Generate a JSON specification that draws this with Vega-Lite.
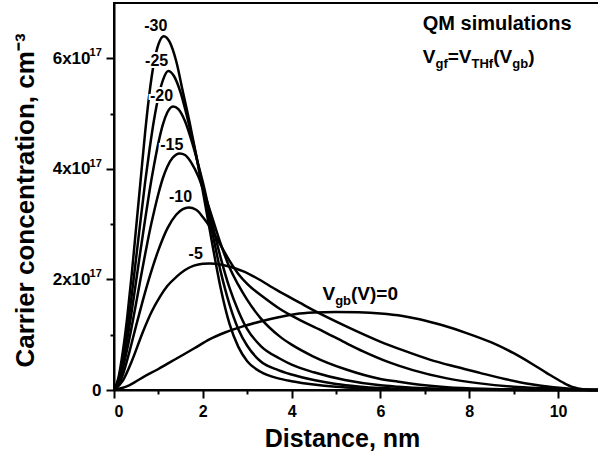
{
  "$schema": "https://vega.github.io/schema/vega-lite/v6.json",
  "autosize": {"type": "none"},
  "padding": {"left": 114, "top": 3, "right": 0, "bottom": 62},
  "width": 488,
  "height": 387,
  "config": {
    "font": "Liberation Sans",
    "view": {"stroke": "black", "strokeWidth": 2}
  },
  "datasets": {
    "curves": [
      {"s":-30,"x":0,"n":0},{"s":-30,"x":0.1,"n":0.22},{"s":-30,"x":0.2,"n":0.7},{"s":-30,"x":0.3,"n":1.33},{"s":-30,"x":0.4,"n":2.1},{"s":-30,"x":0.5,"n":2.95},{"s":-30,"x":0.6,"n":3.8},{"s":-30,"x":0.7,"n":4.65},{"s":-30,"x":0.8,"n":5.38},{"s":-30,"x":0.9,"n":5.92},{"s":-30,"x":1.0,"n":6.25},{"s":-30,"x":1.12,"n":6.4},{"s":-30,"x":1.25,"n":6.3},{"s":-30,"x":1.4,"n":5.95},{"s":-30,"x":1.55,"n":5.4},{"s":-30,"x":1.7,"n":4.85},{"s":-30,"x":1.85,"n":4.25},{"s":-30,"x":2.0,"n":3.6},{"s":-30,"x":2.2,"n":2.7},{"s":-30,"x":2.4,"n":1.85},{"s":-30,"x":2.6,"n":1.2},{"s":-30,"x":2.8,"n":0.78},{"s":-30,"x":3.0,"n":0.52},{"s":-30,"x":3.3,"n":0.33},{"s":-30,"x":3.7,"n":0.21},{"s":-30,"x":4.0,"n":0.16},{"s":-30,"x":4.5,"n":0.1},{"s":-30,"x":5.0,"n":0.06},{"s":-30,"x":5.5,"n":0.035},{"s":-30,"x":6.0,"n":0.02},{"s":-30,"x":7.0,"n":0.007},{"s":-30,"x":8.0,"n":0.003},{"s":-30,"x":9.5,"n":0.001},{"s":-30,"x":11,"n":0},
      {"s":-25,"x":0,"n":0},{"s":-25,"x":0.1,"n":0.19},{"s":-25,"x":0.2,"n":0.58},{"s":-25,"x":0.3,"n":1.1},{"s":-25,"x":0.4,"n":1.72},{"s":-25,"x":0.5,"n":2.4},{"s":-25,"x":0.6,"n":3.08},{"s":-25,"x":0.7,"n":3.75},{"s":-25,"x":0.8,"n":4.35},{"s":-25,"x":0.9,"n":4.88},{"s":-25,"x":1.0,"n":5.3},{"s":-25,"x":1.1,"n":5.6},{"s":-25,"x":1.22,"n":5.77},{"s":-25,"x":1.35,"n":5.68},{"s":-25,"x":1.5,"n":5.38},{"s":-25,"x":1.65,"n":4.93},{"s":-25,"x":1.8,"n":4.42},{"s":-25,"x":2.0,"n":3.68},{"s":-25,"x":2.2,"n":2.9},{"s":-25,"x":2.4,"n":2.15},{"s":-25,"x":2.6,"n":1.55},{"s":-25,"x":2.8,"n":1.1},{"s":-25,"x":3.0,"n":0.8},{"s":-25,"x":3.3,"n":0.52},{"s":-25,"x":3.7,"n":0.36},{"s":-25,"x":4.0,"n":0.28},{"s":-25,"x":4.5,"n":0.18},{"s":-25,"x":5.0,"n":0.11},{"s":-25,"x":5.5,"n":0.065},{"s":-25,"x":6.0,"n":0.035},{"s":-25,"x":7.0,"n":0.012},{"s":-25,"x":8.0,"n":0.005},{"s":-25,"x":9.5,"n":0.001},{"s":-25,"x":11,"n":0},
      {"s":-20,"x":0,"n":0},{"s":-20,"x":0.1,"n":0.16},{"s":-20,"x":0.2,"n":0.5},{"s":-20,"x":0.3,"n":0.93},{"s":-20,"x":0.4,"n":1.43},{"s":-20,"x":0.5,"n":1.98},{"s":-20,"x":0.6,"n":2.54},{"s":-20,"x":0.7,"n":3.08},{"s":-20,"x":0.8,"n":3.6},{"s":-20,"x":0.9,"n":4.06},{"s":-20,"x":1.0,"n":4.47},{"s":-20,"x":1.1,"n":4.8},{"s":-20,"x":1.2,"n":5.02},{"s":-20,"x":1.33,"n":5.13},{"s":-20,"x":1.45,"n":5.08},{"s":-20,"x":1.6,"n":4.86},{"s":-20,"x":1.75,"n":4.5},{"s":-20,"x":1.9,"n":4.07},{"s":-20,"x":2.0,"n":3.76},{"s":-20,"x":2.2,"n":3.05},{"s":-20,"x":2.4,"n":2.4},{"s":-20,"x":2.6,"n":1.85},{"s":-20,"x":2.8,"n":1.43},{"s":-20,"x":3.0,"n":1.1},{"s":-20,"x":3.3,"n":0.8},{"s":-20,"x":3.73,"n":0.57},{"s":-20,"x":4.0,"n":0.46},{"s":-20,"x":4.5,"n":0.32},{"s":-20,"x":5.2,"n":0.18},{"s":-20,"x":6.0,"n":0.085},{"s":-20,"x":6.4,"n":0.06},{"s":-20,"x":7.0,"n":0.03},{"s":-20,"x":8.0,"n":0.01},{"s":-20,"x":9.5,"n":0.002},{"s":-20,"x":11,"n":0},
      {"s":-15,"x":0,"n":0},{"s":-15,"x":0.1,"n":0.13},{"s":-15,"x":0.2,"n":0.4},{"s":-15,"x":0.3,"n":0.75},{"s":-15,"x":0.4,"n":1.15},{"s":-15,"x":0.5,"n":1.58},{"s":-15,"x":0.6,"n":2.02},{"s":-15,"x":0.7,"n":2.45},{"s":-15,"x":0.8,"n":2.86},{"s":-15,"x":0.9,"n":3.22},{"s":-15,"x":1.0,"n":3.55},{"s":-15,"x":1.1,"n":3.83},{"s":-15,"x":1.2,"n":4.04},{"s":-15,"x":1.32,"n":4.2},{"s":-15,"x":1.48,"n":4.28},{"s":-15,"x":1.6,"n":4.25},{"s":-15,"x":1.75,"n":4.1},{"s":-15,"x":1.9,"n":3.86},{"s":-15,"x":2.05,"n":3.52},{"s":-15,"x":2.2,"n":3.15},{"s":-15,"x":2.4,"n":2.65},{"s":-15,"x":2.6,"n":2.22},{"s":-15,"x":2.8,"n":1.9},{"s":-15,"x":3.0,"n":1.63},{"s":-15,"x":3.3,"n":1.3},{"s":-15,"x":3.73,"n":0.97},{"s":-15,"x":4.0,"n":0.82},{"s":-15,"x":4.48,"n":0.61},{"s":-15,"x":5.23,"n":0.37},{"s":-15,"x":6.0,"n":0.2},{"s":-15,"x":6.4,"n":0.15},{"s":-15,"x":7.0,"n":0.085},{"s":-15,"x":7.5,"n":0.05},{"s":-15,"x":8.5,"n":0.02},{"s":-15,"x":9.5,"n":0.006},{"s":-15,"x":11,"n":0},
      {"s":-10,"x":0,"n":0},{"s":-10,"x":0.1,"n":0.09},{"s":-10,"x":0.2,"n":0.28},{"s":-10,"x":0.35,"n":0.7},{"s":-10,"x":0.5,"n":1.17},{"s":-10,"x":0.65,"n":1.62},{"s":-10,"x":0.8,"n":2.04},{"s":-10,"x":1.0,"n":2.53},{"s":-10,"x":1.2,"n":2.92},{"s":-10,"x":1.4,"n":3.17},{"s":-10,"x":1.55,"n":3.27},{"s":-10,"x":1.68,"n":3.3},{"s":-10,"x":1.85,"n":3.26},{"s":-10,"x":2.0,"n":3.13},{"s":-10,"x":2.2,"n":2.9},{"s":-10,"x":2.4,"n":2.62},{"s":-10,"x":2.6,"n":2.34},{"s":-10,"x":2.8,"n":2.1},{"s":-10,"x":3.0,"n":1.92},{"s":-10,"x":3.4,"n":1.66},{"s":-10,"x":3.73,"n":1.47},{"s":-10,"x":4.2,"n":1.26},{"s":-10,"x":4.71,"n":1.06},{"s":-10,"x":5.2,"n":0.86},{"s":-10,"x":5.61,"n":0.7},{"s":-10,"x":6.2,"n":0.5},{"s":-10,"x":6.73,"n":0.36},{"s":-10,"x":7.5,"n":0.21},{"s":-10,"x":8.24,"n":0.12},{"s":-10,"x":9.0,"n":0.06},{"s":-10,"x":9.74,"n":0.03},{"s":-10,"x":10.3,"n":0.01},{"s":-10,"x":11,"n":0},
      {"s":-5,"x":0,"n":0},{"s":-5,"x":0.2,"n":0.17},{"s":-5,"x":0.4,"n":0.52},{"s":-5,"x":0.65,"n":1.05},{"s":-5,"x":0.85,"n":1.42},{"s":-5,"x":1.03,"n":1.68},{"s":-5,"x":1.2,"n":1.88},{"s":-5,"x":1.41,"n":2.05},{"s":-5,"x":1.6,"n":2.17},{"s":-5,"x":1.8,"n":2.25},{"s":-5,"x":2.0,"n":2.285},{"s":-5,"x":2.16,"n":2.29},{"s":-5,"x":2.4,"n":2.27},{"s":-5,"x":2.9,"n":2.15},{"s":-5,"x":3.2,"n":2.03},{"s":-5,"x":3.66,"n":1.81},{"s":-5,"x":4.18,"n":1.58},{"s":-5,"x":4.52,"n":1.43},{"s":-5,"x":5.23,"n":1.15},{"s":-5,"x":5.98,"n":0.88},{"s":-5,"x":6.5,"n":0.72},{"s":-5,"x":7.11,"n":0.55},{"s":-5,"x":7.7,"n":0.42},{"s":-5,"x":8.24,"n":0.31},{"s":-5,"x":8.8,"n":0.2},{"s":-5,"x":9.36,"n":0.11},{"s":-5,"x":9.9,"n":0.05},{"s":-5,"x":10.4,"n":0.015},{"s":-5,"x":11,"n":0},
      {"s":0,"x":0,"n":0},{"s":0,"x":0.3,"n":0.07},{"s":0,"x":0.65,"n":0.23},{"s":0,"x":1.0,"n":0.38},{"s":0,"x":1.41,"n":0.57},{"s":0,"x":1.8,"n":0.75},{"s":0,"x":2.16,"n":0.92},{"s":0,"x":2.5,"n":1.04},{"s":0,"x":2.9,"n":1.15},{"s":0,"x":3.3,"n":1.24},{"s":0,"x":3.73,"n":1.32},{"s":0,"x":4.1,"n":1.375},{"s":0,"x":4.5,"n":1.4},{"s":0,"x":5.0,"n":1.41},{"s":0,"x":5.5,"n":1.405},{"s":0,"x":6.0,"n":1.385},{"s":0,"x":6.5,"n":1.34},{"s":0,"x":6.88,"n":1.28},{"s":0,"x":7.4,"n":1.17},{"s":0,"x":7.94,"n":1.03},{"s":0,"x":8.5,"n":0.86},{"s":0,"x":8.99,"n":0.67},{"s":0,"x":9.4,"n":0.48},{"s":0,"x":9.74,"n":0.31},{"s":0,"x":10.1,"n":0.14},{"s":0,"x":10.34,"n":0.05},{"s":0,"x":10.6,"n":0.01},{"s":0,"x":10.8,"n":0},{"s":0,"x":11,"n":0}
    ],
    "curveLabels": [
      {"t":"-30","x":0.94,"y":6.58},
      {"t":"-25","x":0.96,"y":5.95},
      {"t":"-20","x":1.07,"y":5.32},
      {"t":"-15","x":1.3,"y":4.43},
      {"t":"-10","x":1.5,"y":3.5},
      {"t":"-5","x":1.84,"y":2.46}
    ],
    "exponents": [
      {"t":"17","y":2},
      {"t":"17","y":4},
      {"t":"17","y":6}
    ],
    "heading": [
      {"t":"QM simulations","x":6.953,"y":6.511}
    ],
    "mainText": [
      {"t":"V","x":6.953,"y":5.914},
      {"t":"=V","x":7.516,"y":5.914},
      {"t":"(V","x":8.541,"y":5.914},
      {"t":")","x":9.327,"y":5.914},
      {"t":"V","x":4.694,"y":1.628},
      {"t":"(V)=0","x":5.338,"y":1.628}
    ],
    "subText": [
      {"t":"gf","x":7.239,"y":5.824},
      {"t":"THf","x":8.052,"y":5.824},
      {"t":"gb","x":8.968,"y":5.824},
      {"t":"gb","x":4.98,"y":1.537}
    ]
  },
  "layer": [
    {
      "data": {"name": "curves"},
      "mark": {"type": "line", "interpolate": "monotone", "color": "black", "strokeWidth": 2.5},
      "encoding": {
        "x": {
          "field": "x", "type": "quantitative",
          "scale": {"domain": [0, 10.99], "nice": false, "zero": false},
          "axis": {
            "values": [0,1,2,3,4,5,6,7,8,9,10],
            "labelExpr": "datum.value % 2 == 0 ? datum.label : ''",
            "title": "Distance, nm",
            "titleFontSize": 25, "titleFontWeight": "bold", "titleColor": "black",
            "titleX": 228, "titleY": 48, "titleBaseline": "middle",
            "labelFontSize": 16, "labelFontWeight": "bold", "labelColor": "black",
            "labelPadding": 5,
            "domainColor": "black", "domainWidth": 2,
            "tickColor": "black", "tickWidth": 2,
            "tickSize": {"condition": {"test": "datum.value % 2 != 0", "value": 4}, "value": 8},
            "grid": false
          }
        },
        "y": {
          "field": "n", "type": "quantitative",
          "scale": {"domain": [0, 7], "nice": false},
          "axis": {
            "values": [0,1,2,3,4,5,6],
            "labelExpr": "datum.value == 0 ? '0' : (datum.value % 2 == 0 ? datum.value + 'x10' : '')",
            "title": "Carrier concentration, cm⁻³",
            "titleFontSize": 26, "titleFontWeight": "bold", "titleColor": "black",
            "titleX": -89, "titleY": 197, "titleBaseline": "middle", "titleAngle": -90,
            "labelFontSize": 17, "labelFontWeight": "bold", "labelColor": "black",
            "labelPadding": {"condition": {"test": "datum.value > 0", "value": 16}, "value": 5},
            "domainColor": "black", "domainWidth": 2,
            "tickColor": "black", "tickWidth": 2,
            "tickSize": {"condition": {"test": "datum.value % 2 != 0", "value": 4}, "value": 8},
            "grid": false
          }
        },
        "detail": {"field": "s", "type": "nominal"}
      }
    },
    {
      "data": {"name": "exponents"},
      "mark": {"type": "text", "fontSize": 11, "fontWeight": "bold", "color": "black", "align": "left", "baseline": "middle", "dy": -5},
      "encoding": {
        "x": {"datum": -0.55, "type": "quantitative"},
        "y": {"field": "y", "type": "quantitative"},
        "text": {"field": "t"}
      }
    },
    {
      "data": {"name": "curveLabels"},
      "mark": {"type": "text", "fontSize": 16, "fontWeight": "bold", "fill": "white", "stroke": "white", "strokeWidth": 4, "align": "center", "baseline": "middle"},
      "encoding": {
        "x": {"field": "x", "type": "quantitative"},
        "y": {"field": "y", "type": "quantitative"},
        "text": {"field": "t"}
      }
    },
    {
      "data": {"name": "curveLabels"},
      "mark": {"type": "text", "fontSize": 16, "fontWeight": "bold", "color": "black", "align": "center", "baseline": "middle"},
      "encoding": {
        "x": {"field": "x", "type": "quantitative"},
        "y": {"field": "y", "type": "quantitative"},
        "text": {"field": "t"}
      }
    },
    {
      "data": {"name": "heading"},
      "mark": {"type": "text", "fontSize": 20, "fontWeight": "bold", "color": "black", "align": "left", "baseline": "alphabetic"},
      "encoding": {
        "x": {"field": "x", "type": "quantitative"},
        "y": {"field": "y", "type": "quantitative"},
        "text": {"field": "t"}
      }
    },
    {
      "data": {"name": "mainText"},
      "mark": {"type": "text", "fontSize": 19, "fontWeight": "bold", "color": "black", "align": "left", "baseline": "alphabetic"},
      "encoding": {
        "x": {"field": "x", "type": "quantitative"},
        "y": {"field": "y", "type": "quantitative"},
        "text": {"field": "t"}
      }
    },
    {
      "data": {"name": "subText"},
      "mark": {"type": "text", "fontSize": 13, "fontWeight": "bold", "color": "black", "align": "left", "baseline": "alphabetic"},
      "encoding": {
        "x": {"field": "x", "type": "quantitative"},
        "y": {"field": "y", "type": "quantitative"},
        "text": {"field": "t"}
      }
    }
  ]
}
